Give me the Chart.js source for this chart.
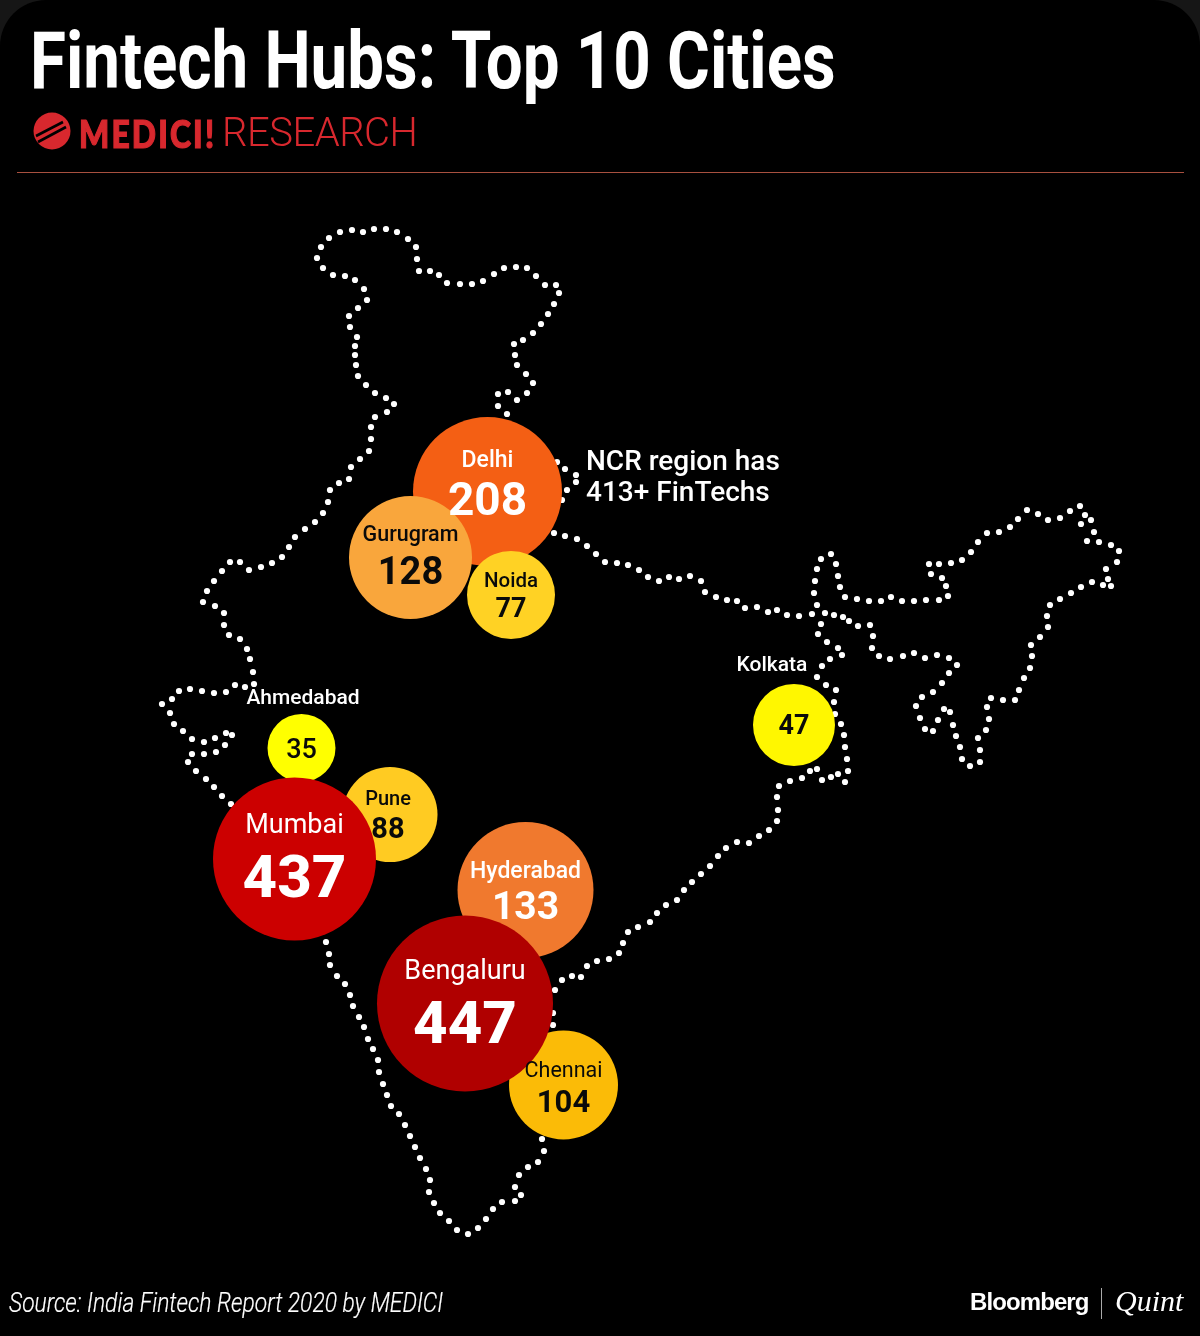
<!DOCTYPE html>
<html><head><meta charset="utf-8">
<script src="https://cdn.jsdelivr.net/npm/chart.js@4/dist/chart.umd.min.js"></script>
<style>
html,body{margin:0;padding:0;background:#161616;}
#page{position:relative;width:1200px;height:1336px;background:#000;border-radius:46px 46px 0 0;overflow:hidden;}
canvas{position:absolute;left:0;top:0;}
.t{position:absolute;white-space:nowrap;transform-origin:0 0;color:#fff;line-height:1;}
#title{left:30px;top:14px;font:700 80px Roboto;transform:scaleX(.818);}
#medici{left:79px;top:111px;font:900 37px Lato;color:#d8282e;letter-spacing:2.5px;-webkit-text-stroke:1.2px #d8282e;transform:scaleX(.86);}
#research{left:222px;top:109px;font:300 40px Roboto;color:#d8282e;letter-spacing:-.5px;}
#rule{position:absolute;left:17px;top:172px;width:1167px;height:1px;background:#a8503f;}
#logo{position:absolute;left:33px;top:112px;}
#source{left:9px;top:1286px;font:italic 300 28px Roboto;-webkit-text-stroke:.2px #fff;transform:scaleX(.815);}
#bloom{left:970px;top:1288px;font:700 24px "Liberation Sans";letter-spacing:-.9px;}
#divider{position:absolute;left:1101px;top:1288px;width:1px;height:31px;background:#aaa;}
#quint{left:1115px;top:1284px;font:italic 400 30px "Liberation Serif";}
</style></head><body>
<div id="page">
<canvas id="c" width="1200" height="1336"></canvas>
<div class="t" id="title">Fintech Hubs: Top 10 Cities</div>
<svg id="logo" width="40" height="38" viewBox="0 0 40 38"><circle cx="19" cy="19" r="18.5" fill="#d8282e"/><path d="M3 24 L30 10 M5 30 L33 15" stroke="#000" stroke-width="2.6"/></svg>
<div class="t" id="medici">MEDICI!</div>
<div class="t" id="research">RESEARCH</div>
<div id="rule"></div>
<div class="t" id="source">Source: India Fintech Report 2020 by MEDICI</div>
<div class="t" id="bloom">Bloomberg</div>
<div id="divider"></div>
<div class="t" id="quint">Quint</div>
</div>
<script>
// City data
const cities   = ["Delhi","Gurugram","Noida","Ahmedabad","Pune","Mumbai","Hyderabad","Chennai","Bengaluru","Kolkata"];
const fintechs = [208,128,77,35,88,437,133,104,447,47];
const mapX     = [487.5,410.5,511,301.5,390,294.5,525.5,563.5,465,794];
const mapY     = [491.5,557.5,595,748,814.5,859,890,1085,1003.5,725];
const bubbleR  = [74.5,61.5,44,34,47.5,81.5,68,54.5,88,41];
const bubbleColors = ["#F45F14","#F9A63C","#FFD224","#FFFF00","#FFCB22","#CC0000","#F0792E","#FBBB07","#B00000","#FFF700"];

// Dotted outline of the map, as [x, y] in map units
const northLoop = [[394,404],[386,398],[375,393],[366,385],[358,376],[356,365],[355,355],[355,346],[357,337],[350,327],[349,316],[358,308],[367,300],[364,289],[355,280],[345,276],[333,275],[323,268],[317,258],[321,247],[329,238],[340,232],[352,230],[363,232],[374,229],[386,229],[397,232],[408,239],[416,247],[417,259],[419,271],[430,271],[439,275],[447,283],[460,284],[472,284],[483,281],[494,274],[504,268],[516,267],[527,268],[536,276],[545,285],[556,285],[559,293],[554,304],[548,314],[541,324],[533,333],[523,340],[514,344],[515,355],[517,365],[526,374],[533,383],[527,393],[517,400],[508,392],[498,394],[498,406],[507,414]];
const delhiEast = [[557,462],[565,469],[576,475],[576,482],[567,490],[562,500]];
const westBorder = [[387,412],[375,417],[371,427],[371,439],[369,451],[360,459],[351,467],[349,479],[339,483],[330,490],[328,502],[323,513],[315,522],[305,529],[295,537],[289,547],[282,557],[272,563],[261,567],[249,570],[240,562],[230,562],[222,571],[214,581],[207,591],[203,602],[215,606],[224,613],[224,625],[229,635],[240,639],[247,649],[250,659],[253,672],[254,684]];
const gujarat = [[245,687],[235,685],[226,692],[214,693],[202,691],[190,689],[179,691],[172,699],[162,704],[170,713],[174,724],[183,731],[192,739],[204,742],[215,738],[226,733],[232,735],[225,745],[216,752],[204,754],[192,754],[188,762],[196,771],[206,779],[214,787],[222,796],[231,804]];
const westCoast = [[326,942],[329,954],[330,965],[337,976],[345,984],[350,995],[353,1006],[359,1017],[364,1027],[368,1039],[373,1049],[378,1060],[379,1072],[383,1084],[387,1095],[391,1106],[399,1114],[405,1125],[410,1136],[415,1147],[420,1158],[426,1169],[430,1180],[429,1192],[434,1203],[440,1213],[449,1221],[457,1230],[468,1234],[478,1228],[486,1219],[493,1209],[502,1202],[515,1201],[521,1195],[515,1187],[519,1175],[528,1167],[538,1162],[544,1151],[542,1139]];
const eastCoast = [[553,1025],[553,1013],[555,990],[562,980],[572,976],[581,977],[587,966],[597,961],[609,959],[619,953],[623,943],[628,932],[638,927],[650,922],[657,913],[666,905],[677,900],[684,890],[692,882],[701,874],[710,866],[718,856],[726,848],[737,842],[749,843],[759,836],[769,830],[777,821],[778,810],[777,797],[779,786],[790,781],[802,778],[810,771],[817,769],[822,780],[831,777],[838,774],[845,782],[848,771],[847,759],[845,747],[844,735],[841,724],[835,714],[834,702],[836,690],[826,685],[817,677],[822,666],[830,659],[842,655],[838,648],[827,642],[818,634],[821,624]];
const nepalBorder = [[554,533],[565,536],[577,539],[587,546],[596,554],[605,562],[617,563],[628,565],[639,570],[648,577],[659,581],[669,577],[679,579],[690,576],[701,581],[705,592],[716,597],[727,600],[737,601],[745,608],[757,607],[768,612],[777,610],[787,615],[799,616],[812,614]];
const sikkimLoop = [[817,605],[814,593],[815,581],[817,569],[821,559],[831,554],[836,564],[838,576],[840,587],[845,597],[857,599],[869,601],[881,601],[891,597],[902,601],[914,601],[926,600],[939,600],[948,596],[946,586],[942,578],[931,574],[929,564],[939,564],[951,563],[962,560],[971,552],[978,542],[987,533],[999,532],[1010,527],[1018,519],[1027,510],[1038,514],[1048,520],[1060,518],[1070,511],[1080,506],[1085,515],[1091,520],[1081,524],[1094,532],[1087,541],[1099,542],[1111,545],[1119,551],[1117,562],[1106,569],[1108,579],[1111,586],[1103,585],[1092,582],[1081,587],[1071,593],[1060,599],[1050,605],[1047,616],[1048,627],[1040,637],[1031,645],[1032,656],[1030,668],[1024,678],[1019,690],[1015,700],[1003,700],[991,698],[987,707],[989,719],[986,730],[978,738],[980,750],[980,762],[970,766],[962,759],[960,747],[956,736],[953,725],[950,712],[944,709],[938,720],[933,731],[925,729],[920,718],[916,706],[922,697],[933,692],[942,683],[949,673],[957,665],[949,658],[937,655],[925,658],[914,653],[903,656],[890,659],[879,656],[872,648],[873,636],[870,625],[858,626],[849,621],[843,617],[834,615],[825,613]];

const outlineDots = [].concat(northLoop,delhiEast,westBorder,gujarat,westCoast,eastCoast,nepalBorder,sikkimLoop);

// Text
const cityFont  = ["500 23px Roboto","500 21.5px Roboto","500 20.5px Roboto","500 21px Roboto","500 20px Roboto","400 27px Roboto","500 23px Roboto","400 21.5px Roboto","400 27px Roboto","500 21px Roboto"];
const valueFont = ["700 46px Roboto","700 38px Roboto","700 27px Roboto","500 27px Roboto","700 29px Roboto","800 60px Roboto","700 39px Roboto","700 31px Roboto","800 60px Roboto","700 27px Roboto"];
const cityDy    = [-30,-22,-13,null,-15,-33,-18,-13,-31,null];
const valueDy   = [12,17,15,3,16,23,19,19,24,2];
const labelDx   = [0,0,0,0,-2,0,0,0,0,0];
const darkText  = [false,true,true,true,true,false,false,true,false,true];
const outsideLabels = [["Kolkata",772,666],["Ahmedabad",303,699]];
const noteLines = [["NCR region has",586,463],["413+ FinTechs",586,494]];

const labels = {
  id:'labels',
  afterDatasetsDraw(chart){
    const ctx = chart.ctx, x = chart.scales.x, y = chart.scales.y;
    ctx.save(); ctx.textAlign='center'; ctx.textBaseline='middle';
    cities.forEach((c,i)=>{
      const px = x.getPixelForValue(mapX[i])+labelDx[i], py = y.getPixelForValue(mapY[i]);
      ctx.fillStyle = darkText[i] ? '#0a0a0a' : '#fff';
      if(cityDy[i]!==null){ ctx.font = cityFont[i]; ctx.fillText(c,px,py+cityDy[i]); }
      ctx.font = valueFont[i]; ctx.fillText(String(fintechs[i]),px,py+valueDy[i]);
    });
    ctx.fillStyle='#fff'; ctx.font='500 21px Roboto';
    outsideLabels.forEach(l=>ctx.fillText(l[0],x.getPixelForValue(l[1]),y.getPixelForValue(l[2])));
    ctx.textAlign='left'; ctx.font='500 28px Roboto';
    noteLines.forEach(l=>ctx.fillText(l[0],x.getPixelForValue(l[1]),y.getPixelForValue(l[2])));
    ctx.restore();
  }
};

new Chart(document.getElementById('c'),{
  type:'bubble',
  plugins:[labels],
  data:{datasets:[
    {label:'Fintechs',order:0,
     data:cities.map((c,i)=>({x:mapX[i],y:mapY[i],r:bubbleR[i]})),
     backgroundColor:bubbleColors,borderWidth:0,hoverBorderWidth:0},
    {label:'India outline',order:1,
     data:outlineDots.map(p=>({x:p[0],y:p[1],r:3.1})),
     backgroundColor:'#fff',borderWidth:0}
  ]},
  options:{
    responsive:false,animation:false,devicePixelRatio:1,
    layout:{padding:0,autoPadding:false},
    plugins:{legend:{display:false},tooltip:{enabled:false},title:{display:false}},
    scales:{
      x:{type:'linear',min:0,max:1200,display:false},
      y:{type:'linear',min:0,max:1336,reverse:true,display:false}
    }
  }
});
</script>
</body></html>
